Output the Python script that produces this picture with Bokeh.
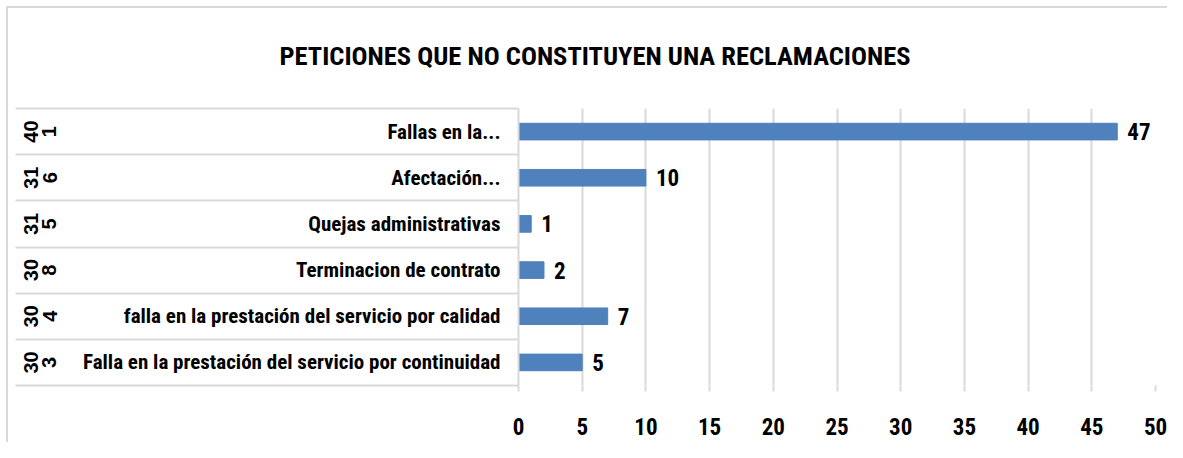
from bokeh.plotting import figure
from bokeh.models import (Range1d, LinearAxis, FixedTicker, Title, ColumnDataSource)
from bokeh.core.properties import value
from bokeh.embed import file_html
from bokeh.resources import INLINE

# ---- data (top row first, as in the picture) ----
codes = ["401", "316", "315", "308", "304", "303"]
labels = [
    "Fallas en la...",
    "Afectación...",
    "Quejas administrativas",
    "Terminacion de contrato",
    "falla en la prestación del servicio por calidad",
    "Falla en la prestación del servicio por continuidad",
]
values = [47, 10, 1, 2, 7, 5]
x_ticks = [0, 5, 10, 15, 20, 25, 30, 35, 40, 45, 50]
title_text = "PETICIONES QUE NO CONSTITUYEN UNA RECLAMACIONES"

NARROW = "Roboto Condensed"
GRID = "#D9D9D9"
BAR = "#4F81BD"

n = len(labels)
centers = [n - i - 0.5 for i in range(n)]
bounds = list(range(n + 1))

src = ColumnDataSource(dict(y=centers, v=values, txt=[str(v) for v in values]))

p = figure(width=1167, height=442, output_backend="svg", toolbar_location=None,
           x_range=Range1d(x_ticks[0], x_ticks[-1]), y_range=Range1d(0, n),
           y_axis_location=None, x_axis_location=None,
           min_border_left=518, min_border_right=12, min_border_top=105,
           min_border_bottom=57, outline_line_color=None,
           border_fill_color=None,
           styles={
               "background-image": "linear-gradient(#D9D9D9, #D9D9D9), linear-gradient(#D9D9D9, #D9D9D9)",
               "background-size": "calc(100% - 6px) 2px, 2px calc(100% - 6px)",
               "background-position": "6px 6px, 6px 6px",
               "background-repeat": "no-repeat, no-repeat",
           })

p.hbar(y="y", right="v", left=0, height=0.36, color=BAR, source=src)
p.text(x="v", y="y", text="txt", source=src, x_offset=10,
       text_baseline="middle", text_align="left",
       text_font=value(NARROW), text_font_style="bold", text_font_size="23px",
       text_color="black")

# x axis
xa = LinearAxis(ticker=FixedTicker(ticks=x_ticks))
xa.axis_line_color = None
xa.major_tick_line_color = GRID
xa.major_tick_line_width = 2
xa.major_tick_out = 6
xa.major_tick_in = 0
xa.minor_tick_line_color = None
xa.major_label_standoff = 26
xa.major_label_text_font = NARROW
xa.major_label_text_font_style = "bold"
xa.major_label_text_font_size = "23px"
xa.major_label_text_color = "black"
p.add_layout(xa, "below")

p.xgrid.grid_line_color = GRID
p.xgrid.grid_line_width = 2
p.xgrid.ticker = FixedTicker(ticks=x_ticks)
p.ygrid.grid_line_color = None

# category axis: labels at row centres, separators drawn as minor ticks at row bounds
ya = LinearAxis(ticker=FixedTicker(ticks=centers, minor_ticks=bounds))
ya.major_label_overrides = {c: l for c, l in zip(centers, labels)}
ya.axis_line_color = GRID
ya.axis_line_width = 2
ya.major_tick_line_color = None
ya.major_tick_out = 0
ya.major_tick_in = 0
ya.minor_tick_line_color = GRID
ya.minor_tick_line_width = 2
ya.minor_tick_out = 0
ya.minor_tick_in = -503
ya.major_label_standoff = 18
ya.major_label_text_font = NARROW
ya.major_label_text_font_style = "bold"
ya.major_label_text_font_size = "21px"
ya.major_label_text_color = "black"
p.add_layout(ya, "left")

# outer level: request codes, rotated
ca = LinearAxis(ticker=FixedTicker(ticks=centers, minor_ticks=[]))
ca.major_label_overrides = {c: code[:2] + "\n" + code[2:] for c, code in zip(centers, codes)}
ca.major_label_orientation = "parallel"
ca.axis_line_color = None
ca.major_tick_line_color = None
ca.minor_tick_line_color = None
ca.major_tick_out = 0
ca.major_tick_in = 0
ca.major_label_standoff = 20
ca.major_label_text_font = "Liberation Sans"
ca.major_label_text_font_style = "bold"
ca.major_label_text_font_size = "20px"
ca.major_label_text_color = "black"
ca.major_label_text_line_height = 0.85
p.add_layout(ca, "left")

t = Title(text=title_text, align="left", offset=-239, standoff=75,
          text_font=NARROW, text_font_style="bold", text_font_size="26.5px",
          text_color="black")
p.add_layout(t, "above")

open("out.html", "w").write(file_html(p, INLINE))
